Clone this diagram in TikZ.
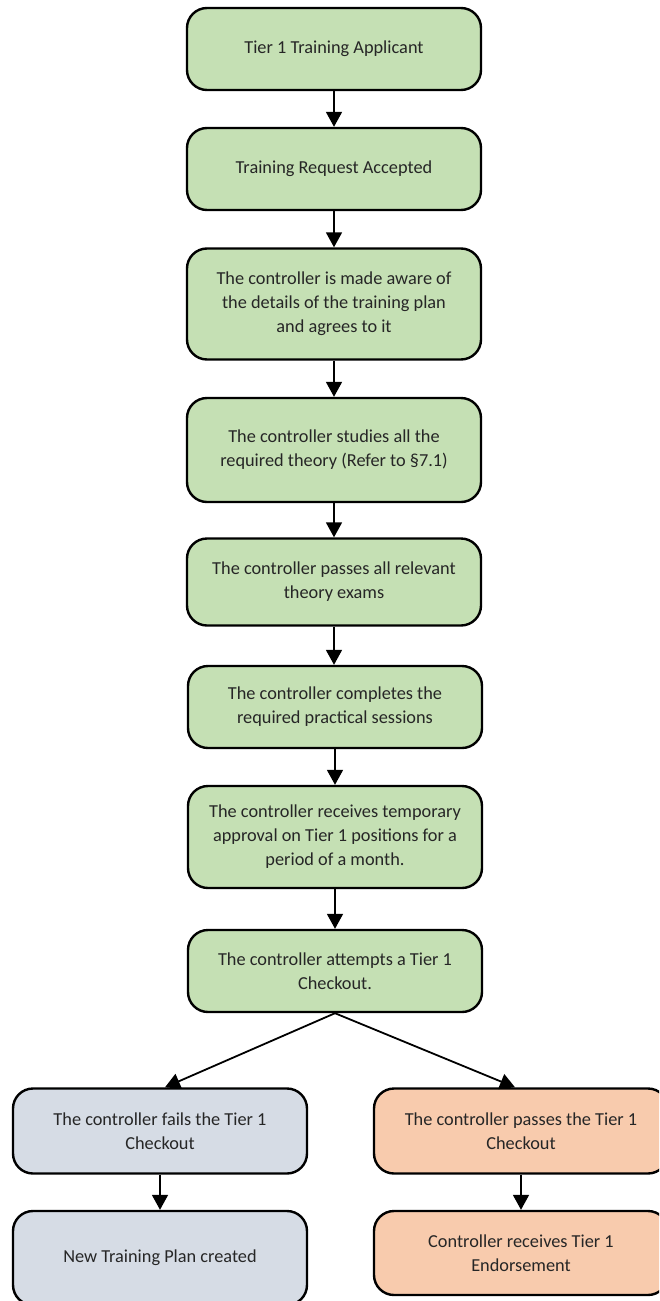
\documentclass[tikz,border=0pt]{standalone}
\usepackage{fontspec}
\setmainfont{Carlito}
\usetikzlibrary{arrows.meta}
\definecolor{boxgreen}{HTML}{C5E0B4}
\definecolor{boxgrey}{HTML}{D6DCE5}
\definecolor{boxorange}{HTML}{F8CBAD}
\definecolor{boxtext}{HTML}{262626}
\begin{document}
\begin{tikzpicture}[x=1pt,y=-1pt,
    box/.style={draw=black,line width=2.4pt,rounded corners=20pt,minimum width=294pt,align=center,
        text=boxtext,font=\fontsize{18.3}{24}\selectfont},
    greenbox/.style={box,fill=boxgreen},
    greybox/.style={box,fill=boxgrey},
    orangebox/.style={box,fill=boxorange},
    arr/.style={line width=1.8pt,-{Triangle[length=15pt,width=16pt]}}]
        \clip (0,0) rectangle (659,1301);
        \node[greenbox,minimum height=82pt] (applicant) at (334,49) {Tier 1 Training Applicant};
        \node[greenbox,minimum height=82pt] (accepted) at (334,169) {Training Request Accepted};
        \node[greenbox,minimum height=111pt] (aware) at (334,304) {The controller is made aware of\\the details of the training plan\\and agrees to it};
        \node[greenbox,minimum height=104pt] (theory) at (334,450) {The controller studies all the\\required theory (Refer to §7.1)};
        \node[greenbox,minimum height=87pt] (exams) at (334,582) {The controller passes all relevant\\theory exams};
        \node[greenbox,minimum height=82pt] (practical) at (335,707) {The controller completes the\\required practical sessions};
        \node[greenbox,minimum height=102pt] (approval) at (335,837) {The controller receives temporary\\approval on Tier 1 positions for a\\period of a month.};
        \node[greenbox,minimum height=82pt] (checkout) at (335,971) {The controller attempts a Tier 1\\Checkout.};
        \node[greybox,minimum height=85pt] (fail) at (160,1131) {The controller fails the Tier 1\\Checkout};
        \node[greybox,minimum height=94pt] (newplan) at (160,1258) {New Training Plan created};
        \node[orangebox,minimum height=85pt] (pass) at (521,1131) {The controller passes the Tier 1\\Checkout};
        \node[orangebox,minimum height=84pt] (endorse) at (521,1253) {Controller receives Tier 1\\Endorsement};
        \draw[arr] (applicant) -- (accepted);
        \draw[arr] (accepted) -- (aware);
        \draw[arr] (aware) -- (theory);
        \draw[arr] (theory) -- (exams);
        \draw[arr] (exams.south) -- (practical.north -| exams.south);
        \draw[arr] (practical) -- (approval);
        \draw[arr] (approval) -- (checkout);
        \draw[arr] (checkout.south) -- ([xshift=5pt]fail.north);
        \draw[arr] (checkout.south) -- ([xshift=-6pt]pass.north);
        \draw[arr] (fail) -- (newplan);
        \draw[arr] (pass) -- (endorse);
\end{tikzpicture}
\end{document}
